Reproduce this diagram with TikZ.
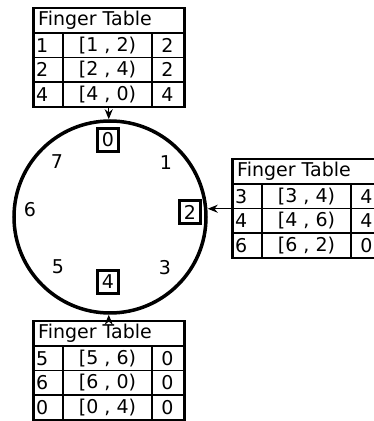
\documentclass[tikz,border=0pt]{standalone}
\usepackage{fontspec}
\setmainfont{DejaVu Sans}
\usepackage{tikz}
\usetikzlibrary{arrows.meta, positioning, calc}

\newcommand{\ftfont}{\fontsize{19pt}{21pt}\selectfont}

% #1 name, #2 north west corner, #3 rows start/end/successor
\newcommand{\fingertable}[3]{%
  \node[tbl, anchor=north west] (#1) at (#2) {};
  \node[lbl, anchor=west] (#1-head) at ($(#1.north west)+(6,-13)$) {Finger Table};
  \draw[grid] ($(#1.north west)+(0,-26)$) -- ($(#1.north east)+(0,-26)$);
  \draw[grid] ($(#1.north west)+(31,-26)$) -- ($(#1.south west)+(31,0)$);
  \draw[grid] ($(#1.north west)+(120,-26)$) -- ($(#1.south west)+(120,0)$);
  \foreach \s/\e/\n [count=\i] in {#3} {
    \ifnum\i>1
      \draw[grid] ($(#1.north west)+(0,{-26-(\i-1)*24.5})$) -- ($(#1.north east)+(0,{-26-(\i-1)*24.5})$);
    \fi
    \node[lbl, anchor=west] (#1-s\i) at ($(#1.north west)+(4,{-26-(\i-0.5)*24.5})$) {\s};
    \node[lbl] (#1-r\i) at ($(#1.north west)+(75.5,{-26-(\i-0.5)*24.5})$) {[\s\ ,\ \e)};
    \node[lbl] (#1-n\i) at ($(#1.north west)+(135.5,{-26-(\i-0.5)*24.5})$) {\n};
  }%
}

\begin{document}
\begin{tikzpicture}[x=1pt, y=1pt,
    ring/.style={circle, draw, line width=3.5pt, minimum size=192pt, inner sep=0pt},
    tbl/.style={rectangle, draw, line width=2.5pt, minimum width=151pt, minimum height=99pt, inner sep=0pt},
    key/.style={rectangle, draw, line width=2.5pt, minimum width=21pt, minimum height=23pt,
        inner sep=0pt, font=\ftfont},
    lbl/.style={inner sep=0pt, font=\ftfont},
    grid/.style={line width=1.2pt},
    arr/.style={-{Stealth[length=10pt, width=8pt]}, line width=1.2pt},
]
\useasboundingbox (0,0) rectangle (374,421);

% Identifier ring
\node[ring] (ring) at (110,204) {};
\node[key] (k0) at (108,281) {0};
\node[key] (k2) at (190,209) {2};
\node[key] (k4) at (108,139) {4};
\node[lbl] (id7) at (57,259) {7};
\node[lbl] (id1) at (166,258) {1};
\node[lbl] (id6) at (30,211) {6};
\node[lbl] (id5) at (58,154) {5};
\node[lbl] (id3) at (165,153) {3};

% Finger tables
\fingertable{ftTop}{32,414}{1/2/2, 2/4/2, 4/0/4}
\fingertable{ftRight}{231,263}{3/4/4, 4/6/4, 6/2/0}
\fingertable{ftBot}{32,101}{5/6/0, 6/0/0, 0/4/0}

% Pointers to the ring
\draw[arr] (ftTop.south) -- (ftTop.south |- ring.north);
\draw[arr] (ftRight.west) -- (ftRight.west -| ring.east);
\draw[arr] (ftBot.north) -- (ftBot.north |- ring.south);
\end{tikzpicture}
\end{document}
